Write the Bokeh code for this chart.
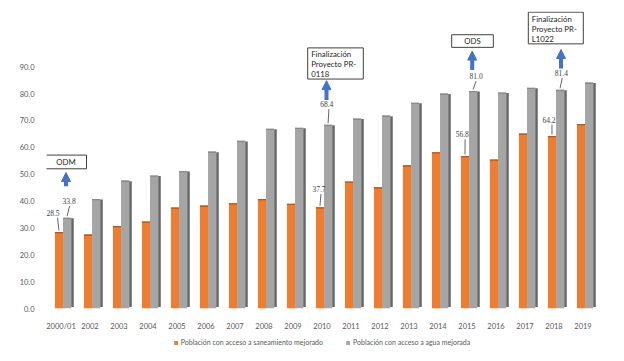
from bokeh.plotting import figure
from bokeh.layouts import column
from bokeh.models import (ColumnDataSource, FixedTicker, Range1d, LabelSet, Label,
                          Arrow, NormalHead, Legend, LegendItem, PrintfTickFormatter)
from bokeh.embed import file_html
from bokeh.resources import INLINE

# ---------------- data ----------------
years = ["2000/01", "2002", "2003", "2004", "2005", "2006", "2007", "2008", "2009", "2010",
         "2011", "2012", "2013", "2014", "2015", "2016", "2017", "2018", "2019"]
saneamiento = [28.5, 27.5, 30.7, 32.4, 37.6, 38.3, 39.2, 40.8, 39.0, 37.7,
               47.3, 45.1, 53.3, 58.2, 56.8, 55.5, 65.1, 64.2, 68.7]
agua = [33.8, 40.8, 47.6, 49.5, 51.2, 58.4, 62.4, 66.9, 67.3, 68.4,
        70.7, 71.8, 76.6, 80.0, 81.0, 80.4, 82.2, 81.4, 84.1]
y_ticks = [0, 10, 20, 30, 40, 50, 60, 70, 80, 90]
labeled_years = ["2000/01", "2010", "2015", "2018"]
note_texts = ["ODM", "Finalización\nProyecto PR-\n0118", "ODS", "Finalización\nProyecto PR-\nL1022"]
series_names = ["Población con acceso a saneamiento mejorado", "Población con acceso a agua mejorada"]

# ---------------- style ----------------
ORANGE, ORANGE_TOP = "#ED7D31", "#B9561A"
GRAY, GRAY_SIDE, GRAY_TOP = "#A5A5A5", "#666666", "#8A8A8A"
BLUE = "#4472C4"
FONT = "Lato"
PX_X, PX_Y = 29.0, 2.75          # pixels per category / per unit
OFF_O, OFF_G, BW = -0.07, 0.21, 0.28

W = 616
p = figure(width=W, height=333, output_backend="svg", toolbar_location=None,
           x_range=Range1d(-0.5, len(years) - 0.5), y_range=Range1d(0, 304 / PX_Y),
           min_border_left=46, min_border_right=19, min_border_top=11, min_border_bottom=18)
p.outline_line_color = None
p.xgrid.grid_line_color = None
p.ygrid.grid_line_color = None
p.background_fill_color = "white"

idx = list(range(len(years)))
src = ColumnDataSource(dict(
    xo=[i + OFF_O for i in idx], xg=[i + OFF_G for i in idx],
    xs=[i + OFF_G + BW / 2 + 0.045 for i in idx],
    san=saneamiento, agu=agua,
    san_cap=[v - 0.5 for v in saneamiento], agu_cap=[v - 0.5 for v in agua],
    agu_side=[v - 0.2 for v in agua],
))

# gray side face (3D depth)
p.vbar(x="xs", top="agu_side", bottom=0.6, width=0.09, source=src,
       fill_color=GRAY_SIDE, line_color=None)
# orange bars
p.vbar(x="xo", top="san", width=BW, source=src, fill_color=ORANGE, line_color=None)
p.vbar(x="xo", top="san", bottom="san_cap", width=BW, source=src,
       fill_color=ORANGE_TOP, line_color=None)
# gray bars
p.vbar(x="xg", top="agu", width=BW, source=src, fill_color=GRAY, line_color=None)
p.vbar(x="xg", top="agu", bottom="agu_cap", width=BW, source=src,
       fill_color=GRAY_TOP, line_color=None)

# ---------------- data labels with leader lines ----------------
# (series, text dx px, text dy px) for each labeled year
lab_style = [[(0, -6, 19.6), (1, 2, 17)],
             [(0, -1, 18.6), (1, -1.3, 21)],
             [(0, -2.7, 22), (1, 3, 15)],
             [(0, -3, 16.7), (1, 1.3, 17)]]
lx, ly, lt, sx0, sy0, sx1, sy1 = [], [], [], [], [], [], []
for yr, styles in zip(labeled_years, lab_style):
    i = years.index(yr)
    for s, dx, dy in styles:
        v = saneamiento[i] if s == 0 else agua[i]
        bx = i + (OFF_O if s == 0 else OFF_G)
        tx = bx + dx / PX_X
        ty = v + dy / PX_Y
        lx.append(tx); ly.append(ty); lt.append(f"{v:.1f}")
        sx0.append(tx + (bx - tx) * 0.5 + 1.5 / PX_X); sy0.append(ty - 5 / PX_Y)
        sx1.append(bx); sy1.append(v + 1.5 / PX_Y)
lsrc = ColumnDataSource(dict(x=lx, y=ly, t=lt, x0=sx0, y0=sy0, x1=sx1, y1=sy1))
p.segment(x0="x0", y0="y0", x1="x1", y1="y1", source=lsrc, line_color="#404040", line_width=0.8)
p.add_layout(LabelSet(x="x", y="y", text="t", source=lsrc, text_align="center",
                      text_baseline="middle", text_font=FONT, text_font_size="7.5px",
                      text_color="#404040"))

# ---------------- note boxes and arrows ----------------
# box (left px, right px from category centre; bottom, top in values), arrow (dx px, y0, y1)
note_geo = [(-15.5, 25.5, 52.0, 57.1, 5, 45.5, 50.6),
            (-14.3, 41.3, 85.4, 97.0, 4.5, 77.6, 84.8),
            (-15.3, 26.3, 97.2, 101.9, 5.2, 88.8, 95.8),
            (-25.7, 29.3, 98.5, 110.3, 7.0, 89.3, 96.4)]
for yr, txt, (l, r, b, t, adx, ay0, ay1) in zip(labeled_years, note_texts, note_geo):
    i = years.index(yr)
    p.quad(left=i + l / PX_X, right=i + r / PX_X, bottom=b, top=t,
           fill_color="white", line_color="#404040", line_width=1)
    if "\n" in txt:
        p.add_layout(Label(x=i + l / PX_X + 3.5 / PX_X, y=t - 1.5 / PX_Y, text=txt,
                           text_align="left", text_baseline="top", text_font=FONT,
                           text_font_size="7.8px", text_color="#262626", text_line_height=1.0))
    else:
        p.add_layout(Label(x=i + (l + r) / 2 / PX_X, y=(b + t) / 2, text=txt,
                           text_align="center", text_baseline="middle", text_font=FONT,
                           text_font_size="7.8px", text_color="#262626"))
    ax = i + adx / PX_X
    p.add_layout(Arrow(x_start=ax, y_start=ay0, x_end=ax, y_end=ay1, line_color=BLUE,
                       line_width=4,
                       end=NormalHead(size=9, fill_color=BLUE, line_color=BLUE, line_width=1)))

# ---------------- axes ----------------
p.xaxis.ticker = FixedTicker(ticks=idx)
p.xaxis.major_label_overrides = {i: y for i, y in enumerate(years)}
p.yaxis.ticker = FixedTicker(ticks=y_ticks)
p.yaxis.formatter = PrintfTickFormatter(format="%.1f")
for ax in (p.xaxis, p.yaxis):
    ax.axis_line_color = None
    ax.major_tick_line_color = None
    ax.minor_tick_line_color = None
    ax.major_label_text_font = FONT
    ax.major_label_text_font_size = "7.5px"
    ax.major_label_text_color = "#595959"
p.xaxis.major_label_standoff = 7
p.yaxis.major_label_standoff = 6

# ---------------- legend (separate strip below) ----------------
q = figure(width=W, height=18, output_backend="svg", toolbar_location=None,
           x_range=Range1d(0, 1), y_range=Range1d(0, 1),
           min_border_left=46, min_border_right=19, min_border_top=0, min_border_bottom=0)
q.axis.visible = False
q.grid.visible = False
q.outline_line_color = None
lo = q.vbar(x=[0.5], top=[0], bottom=[0], width=0.0, fill_color=ORANGE, line_color=None)
lg = q.vbar(x=[0.5], top=[0], bottom=[0], width=0.0, fill_color=GRAY, line_color=None)
legend = Legend(items=[LegendItem(label=series_names[0], renderers=[lo]),
                       LegendItem(label=series_names[1], renderers=[lg])],
                location="center", orientation="horizontal", padding=0, margin=0,
                spacing=22, glyph_width=5, glyph_height=5, label_standoff=3,
                label_text_font=FONT, label_text_font_size="7px",
                label_text_color="#595959", border_line_color=None,
                background_fill_alpha=0)
q.add_layout(legend, "center")

layout = column(p, q, spacing=0)
open("out.html", "w").write(file_html(layout, INLINE))
